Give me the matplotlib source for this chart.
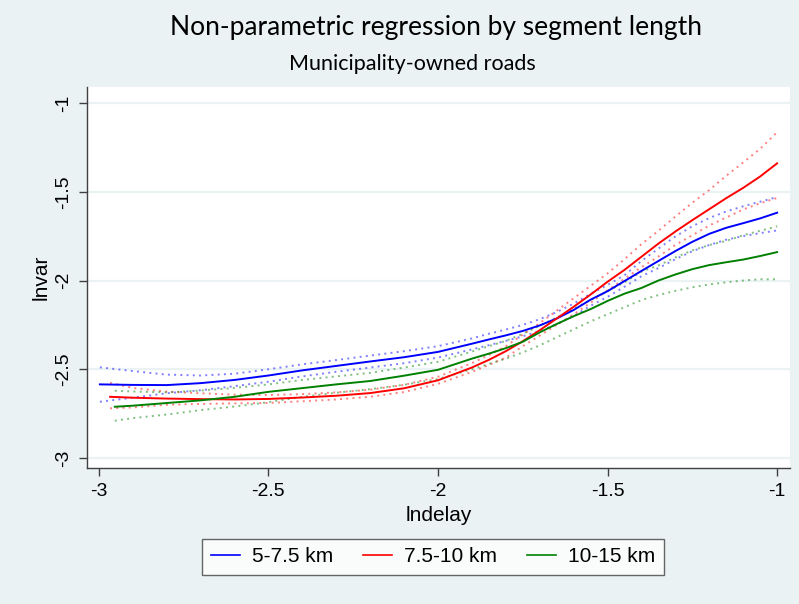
import matplotlib
matplotlib.use("Agg")
import matplotlib.pyplot as plt
from matplotlib.lines import Line2D

# ---------------- data ----------------
grid = [-2.9, -2.8, -2.7, -2.6, -2.5, -2.4, -2.3, -2.2, -2.1, -2.0, -1.9,
        -1.85, -1.8, -1.75, -1.7, -1.65, -1.6, -1.55, -1.5, -1.45, -1.4,
        -1.35, -1.3, -1.25, -1.2, -1.15, -1.1, -1.05, -1.0]

x_blue = [-2.997] + grid
blue_fit = [-2.585, -2.588, -2.589, -2.578, -2.56, -2.535, -2.506, -2.481, -2.456, -2.432,
            -2.402, -2.356, -2.332, -2.309, -2.284, -2.253, -2.214, -2.166, -2.108, -2.060,
            -2.003, -1.946, -1.890, -1.834, -1.782, -1.737, -1.703, -1.677, -1.650, -1.618]
blue_hi = [-2.489, -2.51, -2.53, -2.535, -2.525, -2.50, -2.472, -2.448, -2.423, -2.398,
           -2.37, -2.326, -2.30, -2.276, -2.25, -2.218, -2.178, -2.13, -2.075, -2.025,
           -1.97, -1.89, -1.82, -1.752, -1.694, -1.648, -1.611, -1.582, -1.556, -1.53]
blue_lo = [-2.683, -2.66, -2.635, -2.618, -2.595, -2.57, -2.54, -2.514, -2.49, -2.466,
           -2.434, -2.388, -2.364, -2.34, -2.314, -2.284, -2.246, -2.20, -2.142, -2.092,
           -2.035, -1.976, -1.93, -1.88, -1.835, -1.80, -1.77, -1.75, -1.733, -1.718]

x_red = [-2.967] + grid
red_fit = [-2.655, -2.66, -2.665, -2.668, -2.67, -2.667, -2.659, -2.649, -2.634, -2.607,
           -2.562, -2.49, -2.447, -2.398, -2.342, -2.28, -2.214, -2.148, -2.079, -2.007,
           -1.94, -1.866, -1.792, -1.724, -1.66, -1.598, -1.536, -1.478, -1.414, -1.34]
red_hi = [-2.576, -2.605, -2.626, -2.635, -2.643, -2.645, -2.64, -2.63, -2.615, -2.588,
          -2.542, -2.465, -2.42, -2.37, -2.305, -2.24, -2.17, -2.10, -2.03, -1.96,
          -1.88, -1.795, -1.72, -1.64, -1.562, -1.49, -1.41, -1.335, -1.258, -1.165]
red_lo = [-2.72, -2.715, -2.70, -2.695, -2.692, -2.69, -2.68, -2.67, -2.655, -2.628,
          -2.582, -2.515, -2.475, -2.435, -2.37, -2.31, -2.25, -2.19, -2.125, -2.055,
          -1.99, -1.925, -1.865, -1.80, -1.745, -1.69, -1.645, -1.60, -1.565, -1.535]

x_green = [-2.953] + grid
green_fit = [-2.711, -2.705, -2.69, -2.675, -2.655, -2.627, -2.606, -2.585, -2.566, -2.536,
             -2.503, -2.44, -2.412, -2.381, -2.345, -2.292, -2.245, -2.201, -2.161, -2.115,
             -2.074, -2.042, -2.0, -1.966, -1.936, -1.913, -1.897, -1.882, -1.862, -1.84]
green_hi = [-2.621, -2.625, -2.63, -2.62, -2.605, -2.585, -2.56, -2.54, -2.52, -2.49,
            -2.458, -2.40, -2.37, -2.34, -2.30, -2.255, -2.208, -2.16, -2.11, -2.06,
            -2.01, -1.95, -1.915, -1.87, -1.83, -1.80, -1.777, -1.745, -1.72, -1.695]
green_lo = [-2.79, -2.775, -2.755, -2.73, -2.71, -2.685, -2.655, -2.632, -2.612, -2.587,
            -2.555, -2.50, -2.47, -2.44, -2.405, -2.365, -2.32, -2.275, -2.23, -2.19,
            -2.15, -2.11, -2.082, -2.058, -2.038, -2.022, -2.01, -2.0, -1.993, -1.993]

labels = ["5-7.5 km", "7.5-10 km", "10-15 km"]
colors = ["#0000FF", "#FF0000", "#008000"]

xticks = [-3, -2.5, -2, -1.5, -1]
yticks = [-3, -2.5, -2, -1.5, -1]
tick_text = ["-3", "-2.5", "-2", "-1.5", "-1"]

# ---------------- figure ----------------
BG = "#EAF2F3"
AXC = "#404040"
plt.rcParams["font.family"] = ["Liberation Sans", "DejaVu Sans"]

fig = plt.figure(figsize=(7.99, 6.04), dpi=100, facecolor=BG)
ax = fig.add_axes([87 / 799, 1 - 468 / 604, (790 - 87) / 799, (468 - 87) / 604])
ax.set_facecolor("white")

ax.set_xlim(-3.035, -0.962)
ax.set_ylim(-3.056, -0.91)

for yt in yticks:
    ax.axhline(yt, color=BG, lw=1.6, zorder=0)

series = [(x_blue, blue_fit, blue_hi, blue_lo),
          (x_red, red_fit, red_hi, red_lo),
          (x_green, green_fit, green_hi, green_lo)]
for (xs, fit, hi, lo), c in zip(series, colors):
    ax.plot(xs, hi, color=c, lw=1.4, ls=(0, (1, 2.2)), alpha=0.5, zorder=2)
    ax.plot(xs, lo, color=c, lw=1.4, ls=(0, (1, 2.2)), alpha=0.5, zorder=2)
for (xs, fit, hi, lo), c in zip(series, colors):
    ax.plot(xs, fit, color=c, lw=1.4, zorder=3, solid_joinstyle="round")

for s in ["top", "right"]:
    ax.spines[s].set_visible(False)
for s in ["left", "bottom"]:
    ax.spines[s].set_color(AXC)
    ax.spines[s].set_linewidth(1.0)

ax.set_xticks(xticks)
ax.set_xticklabels(tick_text)
ax.set_yticks(yticks)
ax.set_yticklabels(tick_text, rotation=90, va="center")
ax.tick_params(axis="both", direction="out", length=6, width=1, color=AXC,
               labelsize=14, labelcolor="black")
ax.tick_params(axis="x", pad=5)
ax.tick_params(axis="y", pad=5)

ax.set_xlabel("lndelay", fontsize=15, labelpad=4)
ax.set_ylabel("lnvar", fontsize=15, labelpad=3)

fig.text(436 / 799, 1 - 27 / 604, "Non-parametric regression by segment length",
         ha="center", va="center", fontsize=19, family=["Lato", "DejaVu Sans"])
fig.text(412 / 799, 1 - 64 / 604, "Municipality-owned roads",
         ha="center", va="center", fontsize=15.5, family=["Lato", "DejaVu Sans"])

handles = [Line2D([0], [0], color=c, lw=1.2) for c in colors]
leg = fig.legend(handles, labels, loc="center", bbox_to_anchor=(433 / 799, 1 - 557 / 604),
                 ncol=3, fontsize=15, frameon=True, fancybox=False, handlelength=1.4,
                 handletextpad=0.6, columnspacing=1.4, borderpad=0.4, edgecolor=AXC)
leg.get_frame().set_linewidth(1.0)
leg.get_frame().set_facecolor("white")

fig.savefig("out.png", dpi=100, facecolor=BG)
